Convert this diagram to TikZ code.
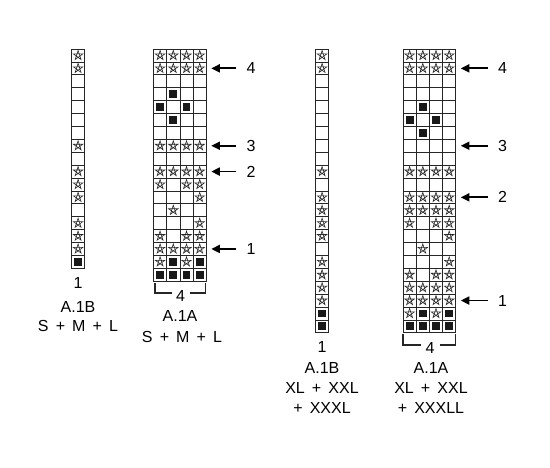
\documentclass[tikz,border=0pt]{standalone}
\usepackage{fontspec}
\setmainfont{Liberation Sans}[WordSpace=1.6]
\usetikzlibrary{arrows.meta,positioning}

% one chart: left edge, name, rows from the top (S = star, B = block, E = empty)
\newcommand\knitchart[3]{%
  \foreach \row [count=\r] in {#3} {
    \foreach \c [count=\k] in \row {
      \node[cell] (#2-\r-\k) at ({#1+13.2*(\k-1)},{49+12.9*(\r-1)}) {};
      \if\c S
        \draw[starline] (#2-\r-\k.center) +(-90:5) -- +(54:5) -- +(198:5)
          -- +(342:5) -- +(126:5) -- cycle;
      \fi
      \if\c B
        \fill[black!90] (#2-\r-\k.center) +(-3.9,-3.9) rectangle +(3.9,3.9);
      \fi
    }
  }%
}

\begin{document}
\begin{tikzpicture}[x=1pt,y=-1pt,
  cell/.style={draw=black!85,line width=0.75pt,minimum width=13.2pt,
    minimum height=12.9pt,inner sep=0pt,outer sep=0pt,anchor=north west},
  starline/.style={draw=black!85,line width=0.6pt,line join=miter},
  rowarrow/.style={-{Triangle[length=8.5pt,width=8pt]},line width=1.8pt,
    shorten <=10pt},
  rowlabel/.style={inner sep=0pt,font=\fontsize{16}{19}\selectfont},
  caption/.style={inner sep=0pt,font=\fontsize{16}{19}\selectfont},
  bracket/.style={line width=1.3pt,black!85}]
  \useasboundingbox[fill=white] (0,0) rectangle (550,467);

  % A.1B, S + M + L
  \knitchart{71.5}{sb}{S,S,E,E,E,E,E,S,E,S,S,S,E,S,S,S,B}
  % A.1A, S + M + L
  \knitchart{153.5}{sa}{{S,S,S,S},{S,S,S,S},{E,E,E,E},{E,B,E,E},{B,E,B,E},
    {E,B,E,E},{E,E,E,E},{S,S,S,S},{E,E,E,E},{S,S,S,S},{S,E,S,S},{E,E,E,S},
    {E,S,E,E},{E,E,E,S},{S,E,S,S},{S,S,S,S},{S,B,S,B},{B,B,B,B}}
  % A.1B, XL + XXL + XXXL
  \knitchart{315.5}{xb}{S,S,E,E,E,E,E,E,E,S,E,S,S,S,S,E,S,S,S,S,B,B}
  % A.1A, XL + XXL + XXXLL
  \knitchart{403}{xa}{{S,S,S,S},{S,S,S,S},{E,E,E,E},{E,E,E,E},{E,B,E,E},
    {B,E,B,E},{E,B,E,E},{E,E,E,E},{E,E,E,E},{S,S,S,S},{E,E,E,E},{S,S,S,S},
    {S,S,S,S},{S,E,S,S},{E,E,E,S},{E,S,E,E},{E,E,E,S},{S,E,S,S},{S,S,S,S},
    {S,S,S,S},{S,B,S,B},{B,B,B,B}}

  % row marks
  \node[rowlabel,right=40pt of sa-2-4] (sa4) {4};
  \node[rowlabel,right=40pt of sa-8-4] (sa3) {3};
  \node[rowlabel,right=40pt of sa-10-4] (sa2) {2};
  \node[rowlabel,right=40pt of sa-16-4] (sa1) {1};
  \draw[rowarrow] (sa4) -- ([xshift=5pt]sa-2-4.east);
  \draw[rowarrow] (sa3) -- ([xshift=5pt]sa-8-4.east);
  \draw[rowarrow] (sa2) -- ([xshift=5pt]sa-10-4.east);
  \draw[rowarrow] (sa1) -- ([xshift=5pt]sa-16-4.east);

  \node[rowlabel,right=42pt of xa-2-4] (xa4) {4};
  \node[rowlabel,right=42pt of xa-8-4] (xa3) {3};
  \node[rowlabel,right=42pt of xa-12-4] (xa2) {2};
  \node[rowlabel,right=42pt of xa-20-4] (xa1) {1};
  \draw[rowarrow] (xa4) -- ([xshift=5pt]xa-2-4.east);
  \draw[rowarrow] (xa3) -- ([xshift=5pt]xa-8-4.east);
  \draw[rowarrow] (xa2) -- ([xshift=5pt]xa-12-4.east);
  \draw[rowarrow] (xa1) -- ([xshift=5pt]xa-20-4.east);

  % repeats
  \node[caption] (sbw) at (78,282.5) {1};
  \node[caption] (saw) at (180.5,296) {4};
  \draw[bracket] ([xshift=1.5pt,yshift=-2pt]sa-18-1.south west)
    |- ([xshift=-4pt,yshift=3pt]saw.west);
  \draw[bracket] ([xshift=-0.5pt,yshift=-2pt]sa-18-4.south east)
    |- ([xshift=5pt,yshift=3pt]saw.east);
  \node[caption] (xbw) at (322,346.5) {1};
  \node[caption] (xaw) at (430,348) {4};
  \draw[bracket] ([yshift=-1pt]xa-22-1.south west)
    |- ([xshift=-4pt,yshift=3pt]xaw.west);
  \draw[bracket] ([yshift=-1pt]xa-22-4.south east)
    |- ([xshift=5pt,yshift=3pt]xaw.east);

  % captions
  \node[caption] (sbn) at (78,306.5) {A.1B};
  \node[caption] (sbs) at (78,326) {S + M + L};
  \node[caption] (san) at (180,316) {A.1A};
  \node[caption] (sas) at (182,336.5) {S + M + L};
  \node[caption] (xbn) at (322,367.5) {A.1B};
  \node[caption] (xbs) at (322,388) {XL + XXL};
  \node[caption] (xbt) at (322,408) {+ XXXL};
  \node[caption] (xan) at (431,368) {A.1A};
  \node[caption] (xas) at (431,388) {XL + XXL};
  \node[caption] (xat) at (431,408) {+ XXXLL};
\end{tikzpicture}
\end{document}
